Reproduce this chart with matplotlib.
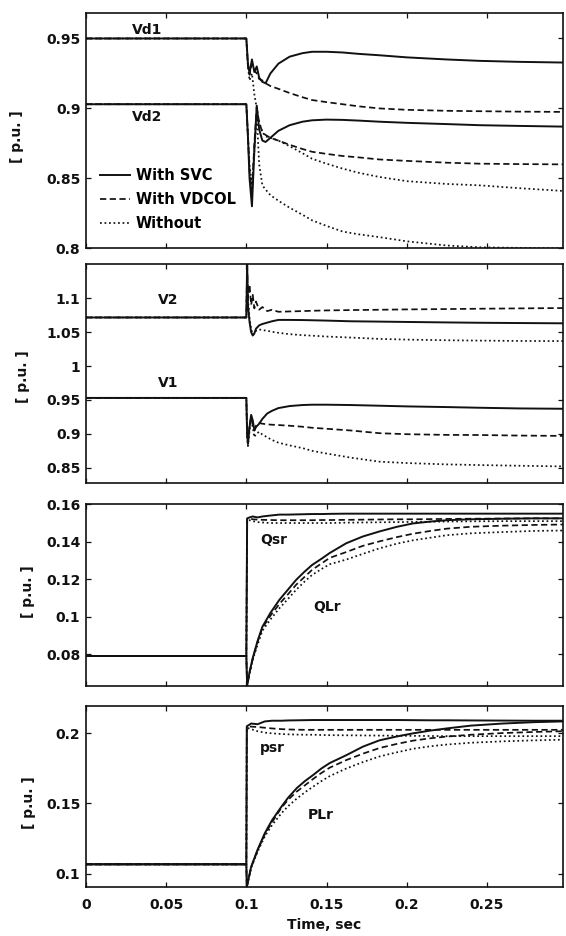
import matplotlib
matplotlib.use("Agg")
import matplotlib.pyplot as plt

plt.rcParams['font.family'] = ['DejaVu Sans']
plt.rcParams['font.weight'] = 'bold'

# ---------------- data ----------------
series_names = ["With SVC", "With VDCOL", "Without"]

# Panel 1: DC voltages
t_vd = [0, 0.1, 0.101, 0.102, 0.1035, 0.105, 0.1065, 0.108, 0.11, 0.112, 0.115, 0.12,
        0.127, 0.135, 0.141, 0.15, 0.16, 0.17, 0.183, 0.2, 0.225, 0.2456, 0.27, 0.2975]
vd1_svc = [0.95, 0.95, 0.932, 0.925, 0.935, 0.926, 0.93, 0.922, 0.919, 0.918, 0.925, 0.932,
           0.937, 0.9395, 0.9405, 0.9405, 0.94, 0.939, 0.938, 0.9365, 0.935, 0.934, 0.9333, 0.9328]
vd1_vdcol = [0.95, 0.95, 0.93, 0.924, 0.932, 0.927, 0.925, 0.921, 0.92, 0.918, 0.916, 0.914,
             0.911, 0.908, 0.906, 0.9045, 0.903, 0.9015, 0.9, 0.899, 0.8983, 0.898, 0.8977, 0.8975]
vd1_without = [0.95, 0.95, 0.93, 0.92, 0.925, 0.91, 0.9, 0.89, 0.883, 0.88, 0.879, 0.877,
               0.873, 0.868, 0.864, 0.8605, 0.857, 0.854, 0.851, 0.848, 0.846, 0.845, 0.843, 0.841]
vd2_svc = [0.903, 0.903, 0.88, 0.85, 0.83, 0.87, 0.902, 0.885, 0.877, 0.876, 0.879, 0.884,
           0.888, 0.8905, 0.8915, 0.892, 0.8918, 0.8913, 0.8905, 0.8897, 0.8888, 0.888, 0.8875, 0.887]
vd2_vdcol = [0.903, 0.903, 0.88, 0.855, 0.84, 0.875, 0.9, 0.89, 0.883, 0.881, 0.879, 0.877,
             0.874, 0.871, 0.869, 0.8675, 0.866, 0.865, 0.8635, 0.8625, 0.8612, 0.8605, 0.8602, 0.86]
vd2_without = [0.903, 0.903, 0.88, 0.86, 0.845, 0.87, 0.895, 0.86, 0.845, 0.842, 0.838, 0.834,
               0.829, 0.824, 0.82, 0.816, 0.812, 0.81, 0.808, 0.805, 0.802, 0.8007, 0.8003, 0.8]

# Panel 2: AC voltages
t_v = [0, 0.1, 0.1005, 0.101, 0.102, 0.103, 0.104, 0.105, 0.106, 0.108, 0.11, 0.113, 0.116,
       0.12, 0.127, 0.135, 0.141, 0.15, 0.165, 0.183, 0.2, 0.225, 0.2456, 0.27, 0.2975]
v2_svc = [1.0716, 1.0716, 1.15, 1.09, 1.065, 1.05, 1.045, 1.048, 1.055, 1.06, 1.062, 1.064, 1.066,
          1.068, 1.068, 1.0678, 1.0675, 1.067, 1.066, 1.0655, 1.065, 1.0643, 1.0638, 1.0634, 1.063]
v2_vdcol = [1.0716, 1.0716, 1.15, 1.10, 1.12, 1.09, 1.105, 1.085, 1.095, 1.083, 1.087, 1.081, 1.083,
            1.08, 1.0805, 1.081, 1.0815, 1.082, 1.0825, 1.083, 1.0835, 1.084, 1.0845, 1.085, 1.0855]
v2_without = [1.0716, 1.0716, 1.14, 1.10, 1.07, 1.055, 1.046, 1.048, 1.052, 1.054, 1.053, 1.052, 1.0505,
              1.049, 1.047, 1.0455, 1.0448, 1.0435, 1.042, 1.04, 1.039, 1.038, 1.0375, 1.037, 1.0368]
v1_svc = [0.953, 0.953, 0.9, 0.885, 0.91, 0.928, 0.92, 0.905, 0.91, 0.915, 0.922, 0.93, 0.934,
          0.938, 0.941, 0.9425, 0.943, 0.943, 0.9425, 0.9415, 0.9405, 0.9395, 0.9385, 0.9375, 0.937]
v1_vdcol = [0.953, 0.953, 0.9, 0.888, 0.912, 0.925, 0.915, 0.905, 0.912, 0.916, 0.915, 0.914, 0.9135,
            0.913, 0.912, 0.9105, 0.909, 0.9075, 0.905, 0.901, 0.8995, 0.8985, 0.8983, 0.8975, 0.897]
v1_without = [0.953, 0.953, 0.895, 0.882, 0.905, 0.92, 0.91, 0.895, 0.9, 0.903, 0.899, 0.895, 0.891,
              0.887, 0.883, 0.879, 0.875, 0.871, 0.865, 0.859, 0.857, 0.855, 0.854, 0.853, 0.852]

# Panel 3: reactive power
t_q = [0, 0.1, 0.1005, 0.102, 0.104, 0.107, 0.11, 0.115, 0.1206, 0.126, 0.131, 0.136, 0.141,
       0.147, 0.152, 0.1623, 0.1726, 0.183, 0.194, 0.204, 0.215, 0.225, 0.24, 0.26, 0.28, 0.2975]
qlr_svc = [0.079, 0.079, 0.063, 0.0705, 0.078, 0.087, 0.0946, 0.102, 0.109, 0.1145, 0.1196, 0.1238, 0.1276,
           0.131, 0.134, 0.1392, 0.1428, 0.1455, 0.148, 0.1498, 0.1508, 0.1515, 0.152, 0.1523, 0.1525, 0.1525]
qlr_vdcol = [0.079, 0.079, 0.063, 0.07, 0.0775, 0.0865, 0.094, 0.1005, 0.1068, 0.112, 0.117, 0.121, 0.125,
             0.1285, 0.1314, 0.1345, 0.1378, 0.1402, 0.1425, 0.1443, 0.1458, 0.147, 0.148, 0.1486, 0.149, 0.1492]
qlr_without = [0.079, 0.079, 0.063, 0.0695, 0.077, 0.085, 0.0925, 0.0985, 0.1045, 0.1095, 0.1143, 0.1185, 0.1223,
               0.1255, 0.128, 0.1305, 0.1335, 0.1365, 0.139, 0.1408, 0.1422, 0.1435, 0.1445, 0.1452, 0.1458, 0.146]
qsr_svc = [0.079, 0.079, 0.1525, 0.153, 0.1535, 0.153, 0.1535, 0.154, 0.1545, 0.1545, 0.1546, 0.1547, 0.1548,
           0.1548, 0.1549, 0.155, 0.155, 0.155, 0.155, 0.155, 0.155, 0.155, 0.155, 0.155, 0.155, 0.155]
qsr_vdcol = [0.079, 0.079, 0.152, 0.1525, 0.152, 0.1518, 0.1517, 0.1516, 0.1515, 0.1515, 0.1515, 0.1515, 0.1515,
             0.1516, 0.1516, 0.1517, 0.1518, 0.1519, 0.152, 0.152, 0.1521, 0.1522, 0.1523, 0.1524, 0.1525, 0.1525]
qsr_without = [0.079, 0.079, 0.1515, 0.1515, 0.151, 0.1505, 0.1503, 0.150, 0.150, 0.150, 0.150, 0.150, 0.150,
               0.150, 0.150, 0.1502, 0.1503, 0.1504, 0.1505, 0.1506, 0.1507, 0.1508, 0.1509, 0.151, 0.151, 0.151]

# Panel 4: active power
t_p = [0, 0.1, 0.1003, 0.103, 0.107, 0.1115, 0.116, 0.1219, 0.126, 0.1315, 0.1366, 0.1417, 0.1469,
       0.152, 0.1625, 0.1727, 0.183, 0.194, 0.204, 0.215, 0.225, 0.24, 0.26, 0.28, 0.2975]
plr_svc = [0.1066, 0.1066, 0.0905, 0.1048, 0.117, 0.1287, 0.138, 0.1477, 0.154, 0.161, 0.166, 0.1703, 0.175,
           0.1788, 0.1845, 0.1905, 0.195, 0.1978, 0.2, 0.202, 0.2035, 0.2055, 0.207, 0.208, 0.2085]
plr_vdcol = [0.1066, 0.1066, 0.0905, 0.1045, 0.1165, 0.128, 0.1365, 0.147, 0.1525, 0.1585, 0.163, 0.1675, 0.1718,
             0.1755, 0.181, 0.1855, 0.1895, 0.1925, 0.1948, 0.1965, 0.1977, 0.199, 0.2002, 0.201, 0.2015]
plr_without = [0.1066, 0.1066, 0.0905, 0.104, 0.1155, 0.1265, 0.1345, 0.143, 0.148, 0.1535, 0.158, 0.162, 0.166,
               0.1695, 0.175, 0.1795, 0.1835, 0.1865, 0.189, 0.1908, 0.192, 0.1933, 0.1943, 0.195, 0.1955]
psr_svc = [0.1066, 0.1066, 0.205, 0.207, 0.2065, 0.2085, 0.209, 0.209, 0.2092, 0.2093, 0.2094, 0.2095, 0.2095,
           0.2095, 0.2095, 0.2095, 0.2095, 0.2095, 0.2094, 0.2093, 0.2093, 0.2092, 0.2091, 0.209, 0.209]
psr_vdcol = [0.1066, 0.1066, 0.205, 0.2048, 0.2045, 0.204, 0.2035, 0.203, 0.2028, 0.2026, 0.2025, 0.2025, 0.2025,
             0.2025, 0.2025, 0.2025, 0.2025, 0.2025, 0.2025, 0.2025, 0.2025, 0.2025, 0.2025, 0.2025, 0.2025]
psr_without = [0.1066, 0.1066, 0.204, 0.203, 0.2015, 0.2005, 0.2, 0.1995, 0.1993, 0.1991, 0.199, 0.199, 0.1988,
               0.1987, 0.1986, 0.1985, 0.1984, 0.1983, 0.1982, 0.1981, 0.198, 0.198, 0.198, 0.198, 0.198]

x_ticks = [0, 0.05, 0.1, 0.15, 0.2, 0.25]
x_ticklabels = ["0", "0.05", "0.1", "0.15", "0.2", "0.25"]
y_ticks_1 = [0.8, 0.85, 0.9, 0.95]
y_ticklabels_1 = ["0.8", "0.85", "0.9", "0.95"]
y_ticks_2 = [0.85, 0.9, 0.95, 1.0, 1.05, 1.1]
y_ticklabels_2 = ["0.85", "0.9", "0.95", "1", "1.05", "1.1"]
y_ticks_3 = [0.08, 0.1, 0.12, 0.14, 0.16]
y_ticklabels_3 = ["0.08", "0.1", "0.12", "0.14", "0.16"]
y_ticks_4 = [0.1, 0.15, 0.2]
y_ticklabels_4 = ["0.1", "0.15", "0.2"]

# ---------------- style ----------------
LC = '#111111'
styles = {
    "With SVC": dict(linestyle='-', linewidth=1.4),
    "With VDCOL": dict(linestyle=(0, (3.6, 2.0)), linewidth=1.25),
    "Without": dict(linestyle=(0, (1, 1.6)), linewidth=1.25),
}
FS = 10

W, H = 566, 936
fig = plt.figure(figsize=(W / 100, H / 100), dpi=100)

left_px, right_px = 86, 563


def make_ax(top_px, bottom_px):
    return fig.add_axes([left_px / W, 1 - bottom_px / H,
                         (right_px - left_px) / W, (bottom_px - top_px) / H])


ax1 = make_ax(13.3, 248.3)
ax2 = make_ax(264.3, 482.7)
ax3 = make_ax(504.3, 686.0)
ax4 = make_ax(706.0, 887.0)

panels = [
    (ax1, t_vd, [(vd1_svc, vd1_vdcol, vd1_without), (vd2_svc, vd2_vdcol, vd2_without)],
     (0.8, 0.968), y_ticks_1, y_ticklabels_1, (-0.130, 0.474)),
    (ax2, t_v, [(v2_svc, v2_vdcol, v2_without), (v1_svc, v1_vdcol, v1_without)],
     (0.828, 1.15), y_ticks_2, y_ticklabels_2, (-0.118, 0.484)),
    (ax3, t_q, [(qsr_svc, qsr_vdcol, qsr_without), (qlr_svc, qlr_vdcol, qlr_without)],
     (0.063, 0.16), y_ticks_3, y_ticklabels_3, (-0.107, 0.517)),
    (ax4, t_p, [(psr_svc, psr_vdcol, psr_without), (plr_svc, plr_vdcol, plr_without)],
     (0.0904, 0.2195), y_ticks_4, y_ticklabels_4, (-0.105, 0.464)),
]

for ax, tt, groups, ylim, yt, ytl, lab_xy in panels:
    for grp in groups:
        # draw without first, then VDCOL, then SVC on top
        for name, vals in reversed(list(zip(series_names, grp))):
            ax.plot(tt, vals, color=LC, label=name, **styles[name])
    ax.set_xlim(0, 0.2975)
    ax.set_ylim(*ylim)
    ax.set_yticks(yt)
    ax.set_yticklabels(ytl)
    ax.set_xticks(x_ticks)
    ax.tick_params(direction='in', length=3.5, width=0.9, top=True, right=True,
                   labelsize=FS, pad=4, colors=LC)
    ax.tick_params(axis='x', pad=8)
    for sp in ax.spines.values():
        sp.set_linewidth(1.2)
        sp.set_color(LC)
    ax.set_ylabel("[ p.u. ]", fontsize=FS, color=LC, fontweight='bold')
    ax.yaxis.set_label_coords(*lab_xy)

for ax in (ax1, ax2, ax3):
    ax.set_xticklabels([])
ax4.set_xticklabels(x_ticklabels)
ax4.set_xlabel("Time, sec", fontsize=FS, color=LC, labelpad=4, fontweight='bold')

# curve labels
lab_kw = dict(fontsize=FS, ha='center', va='center', color=LC, fontweight='bold')
ax1.text(0.128, 0.929, "Vd1", transform=ax1.transAxes, **lab_kw)
ax1.text(0.128, 0.559, "Vd2", transform=ax1.transAxes, **lab_kw)
ax2.text(0.172, 0.837, "V2", transform=ax2.transAxes, **lab_kw)
ax2.text(0.172, 0.456, "V1", transform=ax2.transAxes, **lab_kw)
ax3.text(0.393, 0.804, "Qsr", transform=ax3.transAxes, **lab_kw)
ax3.text(0.506, 0.435, "QLr", transform=ax3.transAxes, **lab_kw)
ax4.text(0.391, 0.768, "psr", transform=ax4.transAxes, **lab_kw)
ax4.text(0.492, 0.398, "PLr", transform=ax4.transAxes, **lab_kw)

# legend
handles, labels = ax1.get_legend_handles_labels()
hmap = {}
for h, l in zip(handles, labels):
    hmap.setdefault(l, h)
ax1.legend([hmap[n] for n in series_names], series_names, loc='upper left',
           bbox_to_anchor=(0.029, 0.340), frameon=False,
           prop={'size': 10.5, 'weight': 'bold'},
           handlelength=2.1, handletextpad=0.35, labelspacing=0.61,
           borderpad=0, borderaxespad=0)

fig.savefig("out.png", dpi=100)
